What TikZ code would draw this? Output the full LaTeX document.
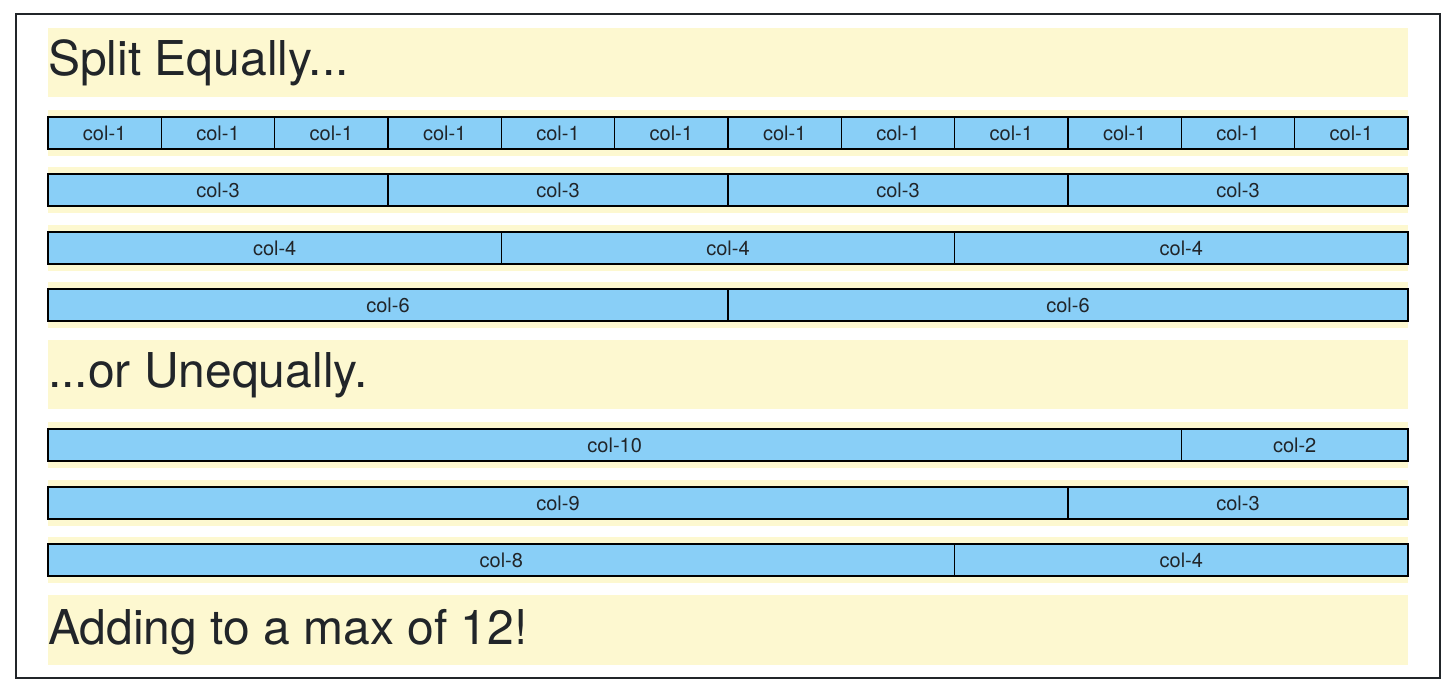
\documentclass[tikz,border=0pt]{standalone}
\usepackage{fontspec}
\setmainfont{TeX Gyre Heros}
\usetikzlibrary{positioning}
\definecolor{colblue}{RGB}{137,207,247}
\definecolor{rowyellow}{RGB}{253,248,208}
\definecolor{inkgray}{RGB}{33,37,41}
\tikzset{
  cell/.style={draw=black, line width=1.3pt, fill=colblue, minimum height=32, inner sep=0pt, outer sep=0pt, font=\fontsize{20}{20}\selectfont, text=inkgray},
  band/.style={fill=rowyellow},
  heading/.style={anchor=base west, inner sep=0pt, font=\fontsize{48}{48}\selectfont, text=inkgray}
}
\begin{document}
\begin{tikzpicture}[x=1pt, y=-1pt]
			\useasboundingbox (0,0) rectangle (1456,692);
			\draw[inkgray, line width=1.1pt] (16,14) rectangle (1440,678);
			% yellow bands
			\fill[band] (48,28) rectangle (1408,97);
			\fill[band] (48,340) rectangle (1408,409);
			\fill[band] (48,595) rectangle (1408,665);
			\foreach \y in {117,174,232,289,429,487,544}
				\fill[band] (48,\y-7) rectangle (1408,\y+39);
			% headings
			\node[heading] (split) at (48,76) {Split Equally...};
			\node[heading] (unequal) at (48,388) {...or Unequally.};
			\node[heading] (max) at (48,644) {Adding to a max of 12!};
			% split equally
			\node[cell, anchor=north west, minimum width=113.333] (a1) at (48,117) {col-1};
			\foreach \i [count=\j from 2] in {1,...,11}
				\node[cell, minimum width=113.333, right=0pt of a\i] (a\j) {col-1};
			\node[cell, anchor=north west, minimum width=340] (b1) at (48,174) {col-3};
			\foreach \i [count=\j from 2] in {1,2,3}
				\node[cell, minimum width=340, right=0pt of b\i] (b\j) {col-3};
			\node[cell, anchor=north west, minimum width=453.333] (c1) at (48,232) {col-4};
			\foreach \i [count=\j from 2] in {1,2}
				\node[cell, minimum width=453.333, right=0pt of c\i] (c\j) {col-4};
			\node[cell, anchor=north west, minimum width=680] (d1) at (48,289) {col-6};
			\node[cell, minimum width=680, right=0pt of d1] (d2) {col-6};
			% unequally
			\node[cell, anchor=north west, minimum width=1133.333] (e1) at (48,429) {col-10};
			\node[cell, minimum width=226.667, right=0pt of e1] (e2) {col-2};
			\node[cell, anchor=north west, minimum width=1020] (f1) at (48,487) {col-9};
			\node[cell, minimum width=340, right=0pt of f1] (f2) {col-3};
			\node[cell, anchor=north west, minimum width=906.667] (g1) at (48,544) {col-8};
			\node[cell, minimum width=453.333, right=0pt of g1] (g2) {col-4};
\end{tikzpicture}
\end{document}
